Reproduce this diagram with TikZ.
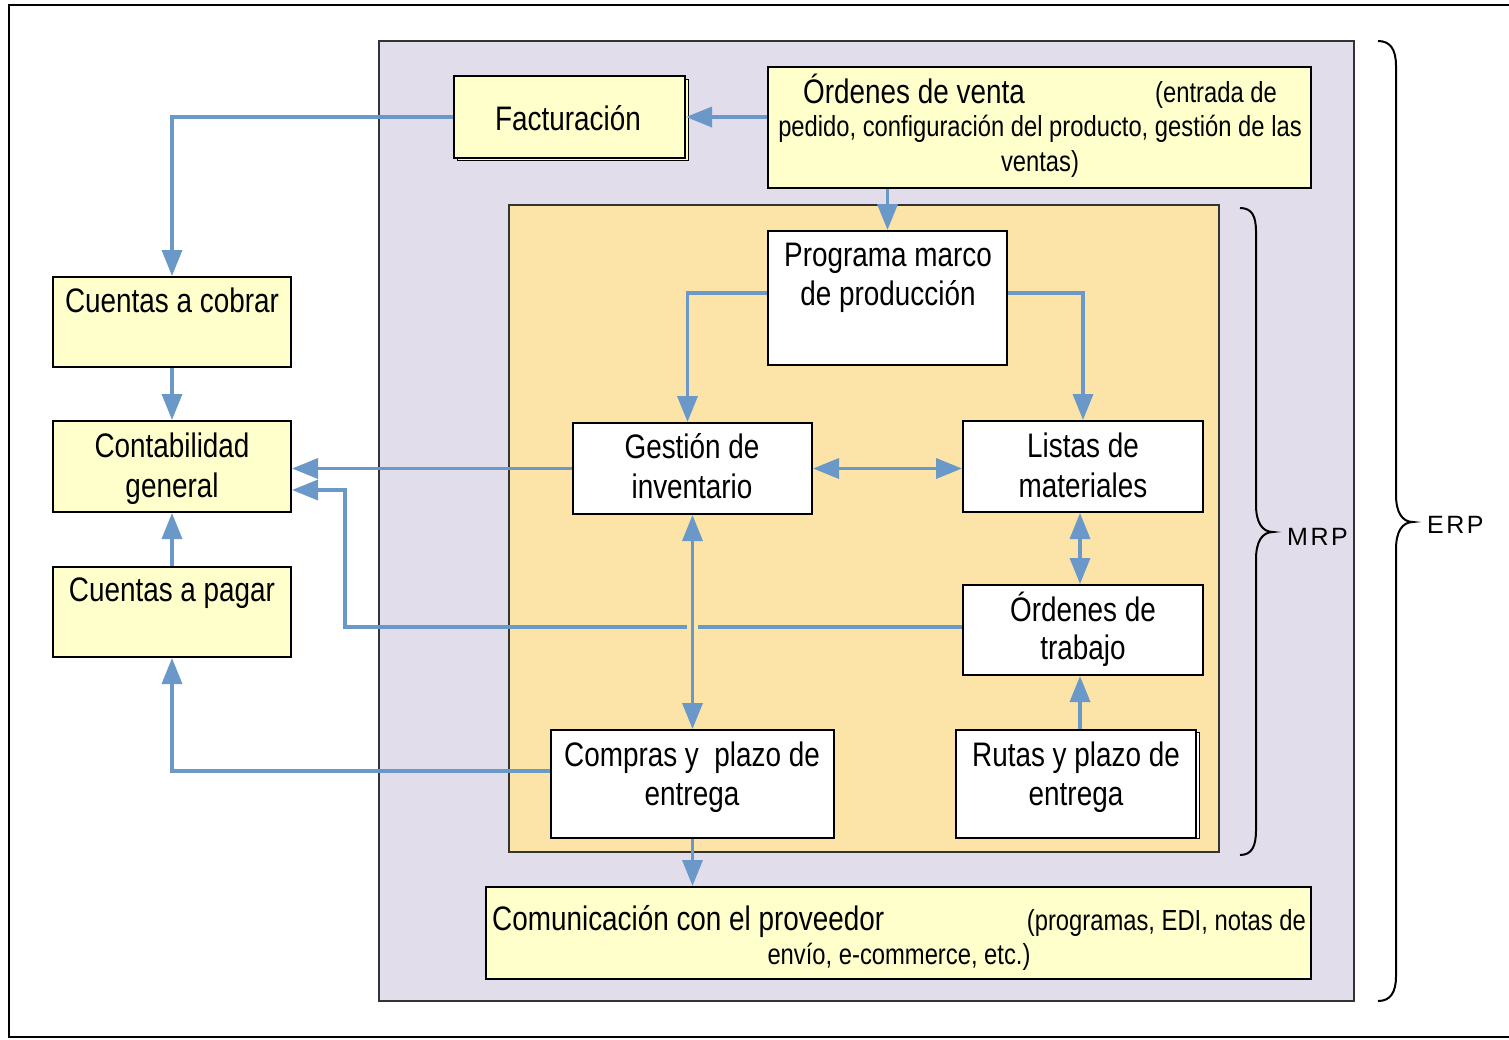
\documentclass[tikz,border=0pt]{standalone}
\usepackage{fontspec}
\setmainfont{Liberation Sans}[FakeStretch=0.82]
\newfontfamily\bracefont{Liberation Sans}[LetterSpace=10]
\usetikzlibrary{arrows.meta,calc}

\definecolor{erpfill}{HTML}{E2DDEB}
\definecolor{mrpfill}{HTML}{FCE3A7}
\definecolor{boxyellow}{HTML}{FFFFCC}
\definecolor{flow}{HTML}{6A98C9}
\definecolor{framegray}{HTML}{333333}

\tikzset{
  box/.style={draw=black, line width=2pt, rectangle, inner sep=0pt},
  ybox/.style={box, fill=boxyellow},
  wbox/.style={box, fill=white},
  big/.style={font=\fontsize{34}{40}\selectfont, inner sep=0pt, anchor=base},
  small/.style={font=\fontsize{29}{36}\selectfont, inner sep=0pt, anchor=base},
  flowline/.style={draw=flow, line width=3.5pt},
  arr/.style={flowline, -{Triangle[length=26pt,width=20pt]}},
  darr/.style={flowline, {Triangle[length=26pt,width=20pt]}-{Triangle[length=26pt,width=20pt]}},
  brace/.style={draw=black, line width=2pt},
  bracelabel/.style={font=\bracefont\fontsize{25}{28}\selectfont, inner sep=0pt, anchor=base west}
}

\begin{document}
\begin{tikzpicture}[x=1pt,y=-1pt]
\useasboundingbox (0,0) rectangle (1509,1039);

% outer frame
\draw[line width=2pt] (9,5) rectangle (1530,1037);

% ERP and MRP areas
\draw[draw=framegray, line width=2pt, fill=erpfill] (379,41) rectangle (1354,1001);
\draw[draw=framegray, line width=2pt, fill=mrpfill] (509,205) rectangle (1219,852);

% shadows behind two boxes
\draw[line width=1pt, fill=boxyellow] (457,79) rectangle (688,160);
\draw[line width=1pt, fill=white] (959,732) rectangle (1199,838);

% boxes
\node[ybox, minimum width=231, minimum height=82]  (fac) at (569.5,117)  {};
\node[ybox, minimum width=543, minimum height=121] (ov)  at (1039.5,127.5) {};
\node[ybox, minimum width=238, minimum height=90]  (cc)  at (172,322)    {};
\node[ybox, minimum width=238, minimum height=91]  (cg)  at (172,466.5)  {};
\node[ybox, minimum width=238, minimum height=90]  (cp)  at (172,612)    {};
\node[wbox, minimum width=239, minimum height=134] (pm)  at (887.5,298)  {};
\node[wbox, minimum width=239, minimum height=91]  (gi)  at (692.5,468.5) {};
\node[wbox, minimum width=240, minimum height=91]  (lm)  at (1083,466.5) {};
\node[wbox, minimum width=240, minimum height=90]  (ot)  at (1083,630)   {};
\node[wbox, minimum width=283, minimum height=108] (cy)  at (692.5,784)  {};
\node[wbox, minimum width=240, minimum height=108] (ru)  at (1076,784)   {};
\node[ybox, minimum width=825, minimum height=92]  (cm)  at (898.5,933)  {};

% texts
\node[big] (fac-t) at (568,130) {Facturación};
\node[big, anchor=base west] (ov-t1) at (803,103) {Órdenes de venta};
\node[small, anchor=base east] (ov-t2) at (1277,102) {(entrada de};
\node[small] (ov-t3) at (1040,136) {pedido, configuración del producto, gestión de las};
\node[small] (ov-t4) at (1040,171) {ventas)};
\node[big] (cc-t) at (172,312) {Cuentas a cobrar};
\node[big] (cg-t1) at (172,457) {Contabilidad};
\node[big] (cg-t2) at (172,497) {general};
\node[big] (cp-t) at (172,601) {Cuentas a pagar};
\node[big] (pm-t1) at (888,266) {Programa marco};
\node[big] (pm-t2) at (888,305) {de producción};
\node[big] (gi-t1) at (692,458) {Gestión de};
\node[big] (gi-t2) at (692,498) {inventario};
\node[big] (lm-t1) at (1083,457) {Listas de};
\node[big] (lm-t2) at (1083,497) {materiales};
\node[big] (ot-t1) at (1083,621) {Órdenes de};
\node[big] (ot-t2) at (1083,659) {trabajo};
\node[big] (cy-t1) at (692,766) {Compras y\ \ plazo de};
\node[big] (cy-t2) at (692,805) {entrega};
\node[big] (ru-t1) at (1076,766) {Rutas y plazo de};
\node[big] (ru-t2) at (1076,805) {entrega};
\node[big, anchor=base west] (cm-t1) at (492,930) {Comunicación con el proveedor};
\node[small, anchor=base east] (cm-t2) at (1306,930) {(programas, EDI, notas de};
\node[small] (cm-t3) at (899,964) {envío, e-commerce, etc.)};

% connectors
\draw[arr] (ov.west |- fac.east) -- (fac.east);
\draw[arr] (fac.west) -| (cc.north);
\draw[arr] (cc.south) -- (cg.north);
\draw[arr] (cp.north) -- (cg.south);
\draw[arr] (gi.west) -- (cg.east |- gi.west);
\coordinate (otbend) at (345,490);
\draw[arr] ($(ot.west)+(0,-3)$) -| (otbend) -- (cg.east |- otbend);
\draw[arr] ($(cy.west)+(0,-13)$) -| (cp.south);
\draw[arr] (pm.north |- ov.south) -- (pm.north);
\draw[arr] ($(pm.west)+(0,-5)$) -| ($(gi.north)+(-5,0)$);
\draw[arr] ($(pm.east)+(0,-5)$) -| (lm.north);
\draw[darr] (gi.east) -- (gi.east -| lm.west);
\draw[darr] ($(lm.south)+(-3,0)$) -- ($(ot.north)+(-3,0)$);
\draw[arr] ($(ru.north -| ot.south)+(-3,0)$) -- ($(ot.south)+(-3,0)$);
\draw[darr, preaction={draw=mrpfill, line width=11pt, -, shorten >=4pt, shorten <=4pt}] (gi.south) -- (cy.north);
\draw[arr] (cy.south) -- (cy.south |- cm.north);

% braces
\draw[brace] (1240,208) .. controls (1252,208) and (1256,216) .. (1256,232)
  -- (1256,505) .. controls (1256,522) and (1262,532) .. (1273,532)
  .. controls (1262,532) and (1256,542) .. (1256,559)
  -- (1256,830) .. controls (1256,846) and (1252,855) .. (1240,855);
\node[bracelabel] (mrp) at (1287,545) {MRP};

\draw[brace] (1378,41) .. controls (1390,41) and (1396,49) .. (1396,66)
  -- (1396,495) .. controls (1396,512) and (1402,522) .. (1413,522)
  .. controls (1402,522) and (1396,532) .. (1396,549)
  -- (1396,976) .. controls (1396,993) and (1390,1001) .. (1378,1001);
\node[bracelabel] (erp) at (1427,533) {ERP};
\end{tikzpicture}
\end{document}
